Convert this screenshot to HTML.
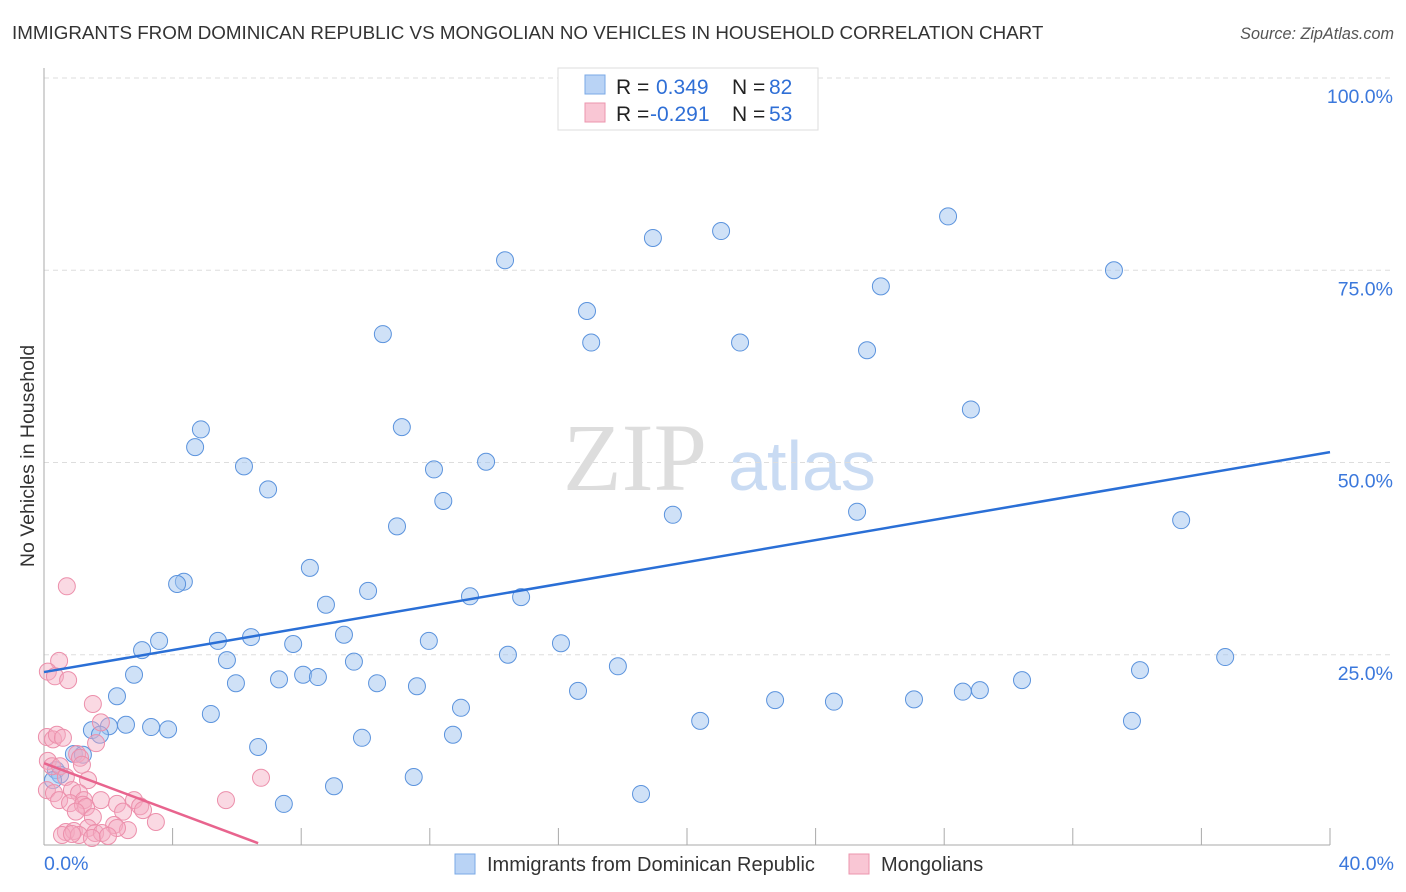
<!DOCTYPE html>
<html><head><meta charset="utf-8"><style>
body{margin:0;background:#fff;font-family:"Liberation Sans",sans-serif;}
svg{display:block}
</style></head><body>
<svg id="chart" width="1406" height="892">
<text x="12" y="39" font-size="18.8" fill="#333">IMMIGRANTS FROM DOMINICAN REPUBLIC VS MONGOLIAN NO VEHICLES IN HOUSEHOLD CORRELATION CHART</text>
<text x="1394" y="39" font-size="16.2" fill="#555" font-style="italic" text-anchor="end">Source: ZipAtlas.com</text>
<text transform="translate(34,456) rotate(-90)" font-size="19.5" fill="#333" text-anchor="middle">No Vehicles in Household</text>
<g>
<text x="635" y="490" font-size="96" fill="#ddd" font-family="Liberation Serif,serif" text-anchor="middle">ZIP</text>
<text x="802" y="490" font-size="70" fill="#c9dbf3" text-anchor="middle">atlas</text>
</g>
<g id="grid"></g><g id="axes"></g><g id="pts"></g><g id="lines"></g>
<g>
<rect x="558" y="68" width="260" height="62" fill="#fff" stroke="#ddd"/>
<rect x="585" y="75" width="20" height="19" fill="#b9d3f5" stroke="#7aa8e6"/>
<rect x="585" y="103" width="20" height="19" fill="#f9c6d4" stroke="#ec95ae"/>
<text x="616" y="94" font-size="21" fill="#222">R = </text><text x="656" y="94" font-size="21" fill="#2f6fd6">0.349</text>
<text x="732" y="94" font-size="21" fill="#222">N = </text><text x="769" y="94" font-size="21" fill="#2f6fd6">82</text>
<text x="616" y="121" font-size="21" fill="#222">R = </text><text x="650" y="121" font-size="21" fill="#2f6fd6">-0.291</text>
<text x="732" y="121" font-size="21" fill="#222">N = </text><text x="769" y="121" font-size="21" fill="#2f6fd6">53</text>
</g>
<g>
<rect x="455" y="854" width="20" height="20" fill="#b9d3f5" stroke="#7aa8e6"/>
<text x="487" y="871" font-size="20" fill="#333">Immigrants from Dominican Republic</text>
<rect x="849" y="854" width="20" height="20" fill="#f9c6d4" stroke="#ec95ae"/>
<text x="881" y="871" font-size="20" fill="#333">Mongolians</text>
</g>
</svg>
<script>
const yTicks=[25,50,75,100];
const yTickLabels=["25.0%","50.0%","75.0%","100.0%"];
const xTickVals=[0,4,8,12,16,20,24,28,32,36,40];
const blueX=[14.34,18.94,21.06,28.12,33.28,26.03,16.89,10.54,17.02,21.65,25.6,28.83,4.88,11.13,4.7,6.22,13.75,12.13,6.97,12.42,10.98,19.56,25.29,35.37,8.27,4.35,4.14,10.08,13.25,14.84,8.77,9.33,3.58,5.41,6.44,11.97,7.75,16.08,3.05,14.43,5.69,9.64,36.74,17.85,34.09,2.8,7.31,8.06,8.52,5.97,10.36,11.6,16.61,30.42,28.58,29.11,2.27,22.74,24.57,27.06,12.97,5.19,20.41,33.84,2.55,2.02,3.33,3.86,1.49,1.74,6.66,9.89,12.72,0.93,1.21,0.37,0.5,0.28,11.5,9.02,18.57,7.46];
const blueY=[76.3,79.2,80.1,82.0,75.0,72.9,69.7,66.7,65.6,65.6,64.6,56.9,54.3,54.6,52.0,49.5,50.1,49.1,46.5,45.0,41.7,43.2,43.6,42.5,36.3,34.5,34.2,33.3,32.6,32.5,31.5,27.6,26.8,26.8,27.3,26.8,26.4,26.5,25.6,25.0,24.3,24.1,24.7,23.5,23.0,22.4,21.8,22.4,22.1,21.3,21.3,20.9,20.3,21.7,20.2,20.4,19.6,19.1,18.9,19.2,18.1,17.3,16.4,16.4,15.9,15.7,15.6,15.3,15.2,14.6,13.0,14.2,14.6,12.1,12.0,10.0,9.4,8.7,9.1,7.9,6.9,5.6];
const pinkX=[0.71,0.47,0.12,0.34,0.75,1.52,1.77,1.62,0.09,0.28,0.40,0.59,1.03,1.12,0.12,0.25,0.50,1.18,0.68,1.37,6.75,0.09,0.31,0.87,1.09,0.47,1.24,0.81,1.21,1.31,1.77,2.8,2.99,3.08,2.27,5.66,0.99,1.52,2.46,3.48,2.18,2.61,0.68,0.93,1.37,1.59,1.80,2.27,0.56,1.09,1.49,1.99,0.87];
const pinkY=[33.9,24.2,22.8,22.2,21.7,18.6,16.2,13.5,14.3,14.0,14.6,14.2,12.1,11.6,11.2,10.5,10.5,10.7,9.1,8.7,9.0,7.4,7.0,7.4,7.0,6.1,6.1,5.7,5.5,5.2,6.1,6.1,5.3,4.8,5.6,6.1,4.6,3.9,4.6,3.25,2.86,2.2,1.95,2.08,2.47,1.82,1.82,2.47,1.56,1.56,1.17,1.43,1.69];
const blueFit=[22.75,51.35];
const pinkFit=[10.9,0.5,6.66];
const L=44,R=1330,T=78,B=847;
const sx=v=>L+(R-L)*v/40, sy=v=>B-(B-T)*v/100;
const NS="http://www.w3.org/2000/svg";
function mk(t,a,p){const e=document.createElementNS(NS,t);for(const k in a)e.setAttribute(k,a[k]);p.appendChild(e);return e;}
const grid=document.getElementById('grid'),axes=document.getElementById('axes');
yTicks.forEach((v,i)=>{
 const g=mk('line',{x1:L,x2:1394,y1:sy(v),y2:sy(v),stroke:'#ddd','stroke-dasharray':'5,4'},grid);
 
 
 const t=mk('text',{x:1393,y:sy(v)+25,'font-size':19.5,fill:'#3b78dc','text-anchor':'end'},axes);
 t.textContent=yTickLabels[i];
 
 
});
const ya=mk('line',{x1:L,x2:L,y1:68,y2:845,stroke:'#aaa'},axes);


const xa=mk('line',{x1:L,x2:R,y1:845,y2:845,stroke:'#aaa'},axes);


xTickVals.forEach(v=>{const l=mk('line',{x1:sx(v),x2:sx(v),y1:828,y2:845,stroke:'#aaa'},axes);
 
 });
[[0,"0.0%",'start',44],[40,"40.0%",'end',1394]].forEach(d=>{const t=mk('text',{x:d[3],y:870,'font-size':19.5,fill:'#3b78dc','text-anchor':d[2]},axes);t.textContent=d[1];
 
 });
const pts=document.getElementById('pts');
blueX.forEach((x,i)=>{const c=mk('circle',{cx:sx(x),cy:sy(blueY[i]),r:8.5,fill:'rgba(160,196,240,0.5)',stroke:'#5b93dd','stroke-width':1},pts);
 
 });
pinkX.forEach((x,i)=>{const c=mk('circle',{cx:sx(x),cy:sy(pinkY[i]),r:8.5,fill:'rgba(245,170,192,0.45)',stroke:'#ec8fab','stroke-width':1},pts);
 
 });
const lines=document.getElementById('lines');
const bl=mk('line',{x1:sx(0),y1:sy(blueFit[0]),x2:sx(40),y2:sy(blueFit[1]),stroke:'#2a6fd6','stroke-width':2.5},lines);


const pl=mk('line',{x1:sx(0),y1:sy(pinkFit[0]),x2:sx(pinkFit[2]),y2:sy(pinkFit[1]),stroke:'#e8648e','stroke-width':2.5},lines);


</script>
</body></html>
